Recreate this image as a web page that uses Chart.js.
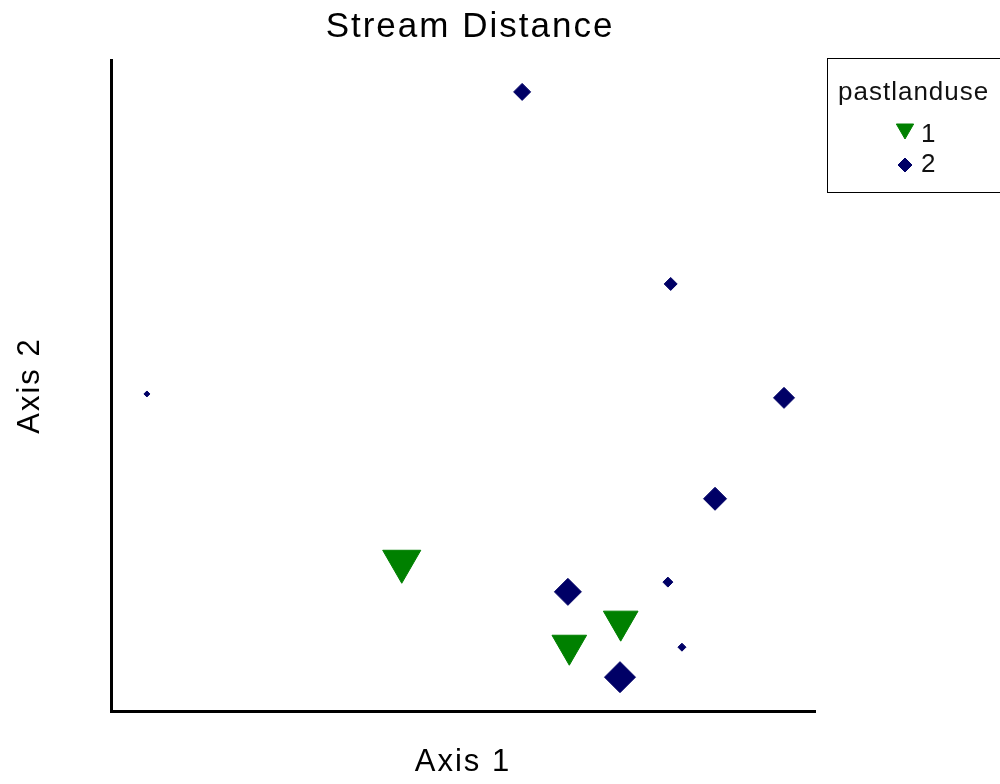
<!DOCTYPE html>
<html>
<head>
<meta charset="utf-8">
<script src="https://cdn.jsdelivr.net/npm/chart.js@4/dist/chart.umd.min.js"></script>
<style>
  html, body { margin: 0; padding: 0; background: #fff; }
  #wrap { width: 1000px; height: 784px; }
</style>
</head>
<body>
<div id="wrap"><canvas id="ordination" width="1000" height="784"></canvas></div>
<script>
// pastlanduse = 1 (green triangles)
var use1X = [4.13, 7.24, 6.51];
var use1Y = [2.30, 1.38, 1.01];
var use1Size = [22, 20, 20];

// pastlanduse = 2 (navy diamonds)
var use2X = [5.84, 7.95, 9.56, 8.58, 6.49, 7.91, 8.11, 7.23, 0.51];
var use2Y = [9.51, 6.56, 4.81, 3.26, 1.83, 1.98, 0.98, 0.52, 4.87];
var use2Size = [8.5, 6.5, 10.5, 11.5, 13.5, 5, 4, 15.5, 3];

var chartTitle = 'Stream Distance';
var legendTitle = 'pastlanduse';
var groupLabels = ['1', '2'];

var green = '#008000';
var navy = '#000066';

function toPoints(xs, ys) {
    return xs.map(function(x, i) { return { x: x, y: ys[i] }; });
}

// title + legend box drawn on the canvas
var extras = {
    id: 'extras',
    beforeDraw: function(chart) {
        chart.ctx.letterSpacing = '2px';
    },
    afterDraw: function(chart) {
        var ctx = chart.ctx;
        ctx.save();
        ctx.letterSpacing = '2px';
        ctx.fillStyle = '#000';
        ctx.font = '35px "Liberation Sans", Arial, sans-serif';
        ctx.textAlign = 'center';
        ctx.textBaseline = 'alphabetic';
        ctx.fillText(chartTitle, 470, 37);

        // legend
        ctx.lineWidth = 1;
        ctx.strokeStyle = '#000';
        ctx.strokeRect(827.5, 58.5, 200, 134);
        ctx.letterSpacing = '1px';
        ctx.font = '26px "Liberation Sans", Arial, sans-serif';
        ctx.textAlign = 'left';
        ctx.fillStyle = '#111';
        ctx.fillText(legendTitle, 838, 100);
        ctx.fillText(groupLabels[0], 921, 142);
        ctx.fillText(groupLabels[1], 921, 172);

        ctx.fillStyle = green;
        ctx.strokeStyle = green;
        Chart.helpers.drawPoint(ctx, { pointStyle: 'triangle', rotation: 180, radius: 10, borderWidth: 1 }, 905, 129);
        ctx.fillStyle = navy;
        ctx.strokeStyle = navy;
        Chart.helpers.drawPoint(ctx, { pointStyle: 'rectRot', rotation: 0, radius: 7, borderWidth: 1 }, 905, 165);
        ctx.restore();
    }
};

var ctx = document.getElementById('ordination').getContext('2d');
var chart = new Chart(ctx, {
    type: 'scatter',
    data: {
        datasets: [{
            label: groupLabels[0],
            data: toPoints(use1X, use1Y),
            pointStyle: 'triangle',
            rotation: 180,
            pointRadius: function(c) { return use1Size[c.dataIndex]; },
            pointHoverRadius: function(c) { return use1Size[c.dataIndex]; },
            backgroundColor: green,
            borderColor: green,
            borderWidth: 1
        }, {
            label: groupLabels[1],
            data: toPoints(use2X, use2Y),
            pointStyle: 'rectRot',
            pointRadius: function(c) { return use2Size[c.dataIndex]; },
            pointHoverRadius: function(c) { return use2Size[c.dataIndex]; },
            backgroundColor: navy,
            borderColor: navy,
            borderWidth: 1
        }]
    },
    options: {
        responsive: false,
        animation: false,
        devicePixelRatio: 1,
        layout: {
            autoPadding: false,
            padding: { left: 0, top: 60, right: 185, bottom: 0 }
        },
        plugins: {
            legend: { display: false },
            title: { display: false },
            tooltip: { enabled: false }
        },
        scales: {
            x: {
                type: 'linear',
                min: 0,
                max: 10,
                grid: { display: false, drawTicks: false },
                border: { display: true, color: '#000', width: 3 },
                ticks: { display: false },
                title: {
                    display: true,
                    text: 'Axis 1',
                    color: '#000',
                    font: { family: '"Liberation Sans", Arial, sans-serif', size: 31 },
                    padding: { top: 32.4, bottom: 3.4 }
                }
            },
            y: {
                type: 'linear',
                min: 0,
                max: 10,
                grid: { display: false, drawTicks: false },
                border: { display: true, color: '#000', width: 3 },
                ticks: { display: false },
                title: {
                    display: true,
                    text: 'Axis 2',
                    color: '#000',
                    font: { family: '"Liberation Sans", Arial, sans-serif', size: 31 },
                    padding: { top: 11.4, bottom: 62.4 }
                }
            }
        }
    },
    plugins: [extras]
});
</script>
</body>
</html>
